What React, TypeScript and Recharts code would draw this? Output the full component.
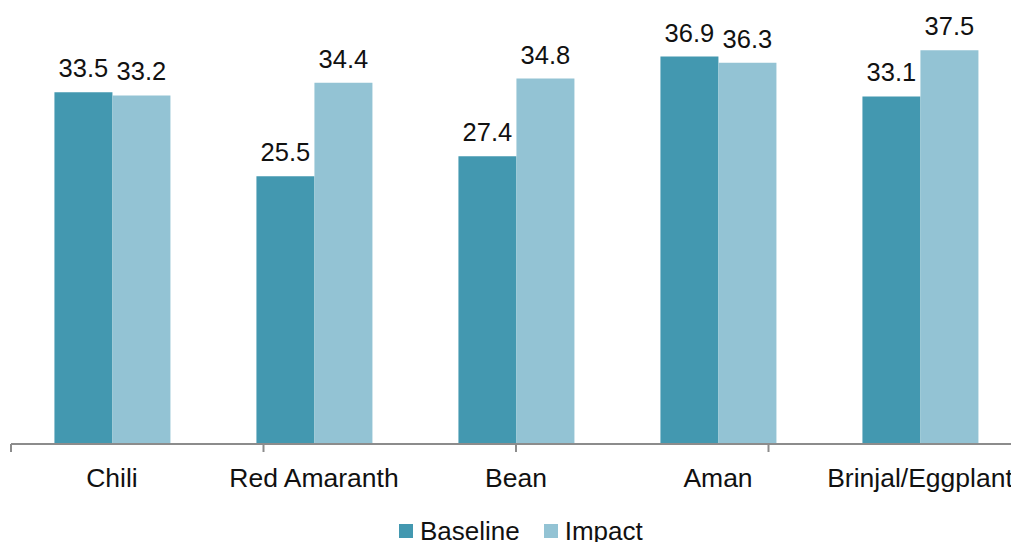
import React from 'react';
import { BarChart, Bar, XAxis, YAxis, Legend, LabelList } from 'recharts';

// Crops and the two survey rounds
const crops = ['Chili', 'Red Amaranth', 'Bean', 'Aman', 'Brinjal/Eggplant'];
const baseline = [33.5, 25.5, 27.4, 36.9, 33.1];
const impact = [33.2, 34.4, 34.8, 36.3, 37.5];
const edgeTicks = [0, 1, 2, 3, 4, 5];

const BASELINE_COLOR = '#4398b0';
const IMPACT_COLOR = '#93c3d4';
const AXIS_COLOR = '#8c8c8c';
const FONT = '"Liberation Sans", Arial, sans-serif';

const data = crops.map((crop, i) => ({
  crop,
  baseline: baseline[i],
  impact: impact[i],
}));

const legendItems = [
  { label: 'Baseline', color: BASELINE_COLOR },
  { label: 'Impact', color: IMPACT_COLOR },
];

const LegendContent = () => (
  <div style={{ display: 'flex', alignItems: 'center', fontFamily: FONT, fontSize: 26, color: '#111' }}>
    {legendItems.map((item, i) => (
      <div key={item.label} style={{ display: 'flex', alignItems: 'center', marginRight: i === 0 ? 24 : 0 }}>
        <span style={{ width: 14, height: 14, background: item.color, marginRight: 7, display: 'inline-block' }} />
        <span style={{ lineHeight: '28px' }}>{item.label}</span>
      </div>
    ))}
  </div>
);

// the edge axis only shows tick marks, no labels
const NoLabel = () => <g />;

export default function App() {
  return (
    <div style={{ position: 'absolute', left: 0, top: 0, width: 1011, height: 542, overflow: 'hidden', background: '#fff' }}>
      <BarChart
        width={1030}
        height={542}
        data={data}
        margin={{ top: 24, right: 9, left: 11, bottom: 37 }}
        barCategoryGap="21.5%"
        barGap={0}
      >
        {/* boundary ticks between categories */}
        <XAxis
          xAxisId={0}
          type="number"
          domain={[0, 5]}
          ticks={edgeTicks}
          allowDataOverflow
          height={1}
          tick={NoLabel}
          tickSize={8}
          tickLine={{ stroke: AXIS_COLOR, strokeWidth: 2 }}
          axisLine={{ stroke: AXIS_COLOR, strokeWidth: 2 }}
        />
        <XAxis
          xAxisId={1}
          dataKey="crop"
          height={60}
          axisLine={false}
          tickLine={false}
          tickSize={8}
          tickMargin={15}
          interval={0}
          tick={{ fill: '#111', fontSize: 26.5, fontFamily: FONT }}
        />
        <YAxis hide domain={[0, 40]} />
        <Legend
          verticalAlign="middle"
          align="center"
          layout="horizontal"
          content={<LegendContent />}
          wrapperStyle={{ top: 517, left: 399, width: 'auto' }}
        />
        <Bar xAxisId={1} dataKey="baseline" name="Baseline" fill={BASELINE_COLOR} isAnimationActive={false}>
          <LabelList dataKey="baseline" position="top" offset={15} fill="#111" fontSize={25.5} fontFamily={FONT} />
        </Bar>
        <Bar xAxisId={1} dataKey="impact" name="Impact" fill={IMPACT_COLOR} isAnimationActive={false}>
          <LabelList dataKey="impact" position="top" offset={15} fill="#111" fontSize={25.5} fontFamily={FONT} />
        </Bar>
      </BarChart>
    </div>
  );
}
